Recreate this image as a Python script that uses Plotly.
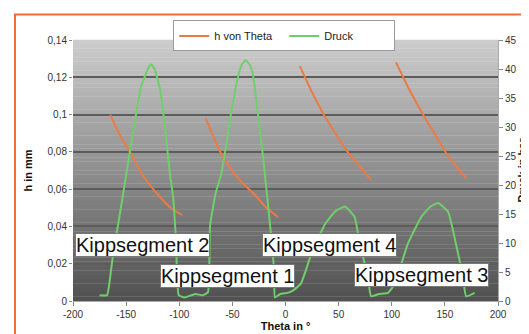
import plotly.graph_objects as go

# ---- data ----
h_theta = [-165, -155, -146, -135, -120, -108, -97, None,
           -75, -61, -49, -40, -29, -18, -7, None,
           13.5, 25, 37, 48, 59, 70, 80.5, None,
           104, 116, 129, 140, 151, 161, 170]
h_values = [0.100, 0.088, 0.0795, 0.068, 0.057, 0.050, 0.046, None,
            0.098, 0.0795, 0.069, 0.063, 0.057, 0.050, 0.045, None,
            0.126, 0.112, 0.099, 0.089, 0.0795, 0.072, 0.065, None,
            0.128, 0.114, 0.1005, 0.090, 0.0795, 0.072, 0.066]

p_theta = [-175, -168, -164, -161, -157.5, -150, -141.5, -136, -130, -126.5, -123, -118,
           -113.5, -108.7, -106, -103, -100.5, -95, -85, -78, -73, -71, -65.5, -60.7, -56,
           -51.3, -44.7, -41, -37.5, -34, -30.6, -26, -21.2, -18.4, -14.6, -10.5, -10, -5,
           2, 7, 14.5, 25, 37, 47, 56, 65, 70, 77.5, 80.5, 88, 96.5, 103, 115, 127.5, 136,
           143.5, 153, 160.5, 167, 170, 178]
p_values = [1.0, 1.0, 5.6, 9.8, 13.2, 21.7, 31.3, 36.9, 39.8, 40.8, 39.9, 36.4,
            30.1, 21.7, 18.3, 10.3, 1.0, 0.6, 1.2, 1.0, 1.5, 13.0, 18.8, 21.7, 26.7,
            32.3, 38.6, 40.8, 41.5, 40.8, 39.0, 32.3, 25.0, 20.0, 13.2, 4.7, 0.6, 1.2,
            1.4, 1.8, 3.0, 8.5, 13.2, 15.5, 16.3, 14.5, 9.8, 4.2, 0.8, 1.2, 1.4, 3.0, 9.8, 14.4, 16.2,
            16.9, 15.4, 9.8, 4.2, 0.8, 1.4]

label_texts = ["Kippsegment 2", "Kippsegment 1", "Kippsegment 4", "Kippsegment 3"]
label_theta = [-135, -55, 41, 128]
label_h = [0.030, 0.0135, 0.030, 0.0142]

h_ticks = [0, 0.02, 0.04, 0.06, 0.08, 0.10, 0.12, 0.14]
h_ticktext = ["0", "0,02", "0,04", "0,06", "0,08", "0,1", "0,12", "0,14"]
p_ticks = [0, 5, 10, 15, 20, 25, 30, 35, 40, 45]
theta_ticks = [-200, -150, -100, -50, 0, 50, 100, 150, 200]
theta_ticktext = ["-200", "-150", "-100", "-50", "0", "50", "100", "150", "200"]

FONT = "Arial, Liberation Sans, sans-serif"

fig = go.Figure()
fig.add_trace(go.Scatter(x=h_theta, y=h_values, name="h von Theta", mode="lines",
                         line=dict(color="#ec7a45", width=2, shape="spline", smoothing=0.6),
                         connectgaps=False))
fig.add_trace(go.Scatter(x=p_theta, y=p_values, name="Druck", mode="lines", yaxis="y2",
                         line=dict(color="#6fcf6a", width=2, shape="spline", smoothing=0.4)))

# gradient background of plot area
shapes = []
n = 60
for i in range(n):
    t = (i + 0.5) / n  # 0 top, 1 bottom
    g = int(round(205 - 125 * t))
    shapes.append(dict(type="rect", xref="x domain", yref="y domain",
                       x0=0, x1=1, y0=1 - (i + 1) / n, y1=1 - i / n + 0.001,
                       fillcolor=f"rgb({g},{g},{g})", line=dict(width=0), layer="below"))
# orange page border (top and left)
shapes.append(dict(type="line", xref="paper", yref="paper",
                   x0=-59 / 425, x1=464 / 425, y0=292 / 266, y1=292 / 266,
                   line=dict(color="#f26b3a", width=2)))
shapes.append(dict(type="line", xref="paper", yref="paper",
                   x0=-58 / 425, x1=-58 / 425, y0=292 / 266, y1=-40 / 266,
                   line=dict(color="#f26b3a", width=2)))

annotations = []
for txt, xv, yv in zip(label_texts, label_theta, label_h):
    annotations.append(dict(x=xv, y=yv, xref="x", yref="y", text=txt, showarrow=False,
                            font=dict(family=FONT, size=20, color="#111"),
                            bgcolor="white", bordercolor="#777", borderwidth=1, borderpad=0))
annotations.append(dict(x=(521 - 65) / 425, y=0.5, xref="paper", yref="paper",
                        text="<b>Druck in bar</b>", textangle=-90, showarrow=False,
                        font=dict(family=FONT, size=11, color="#111")))

fig.update_layout(
    width=529, height=334,
    margin=dict(l=65, r=39, t=32, b=36),
    paper_bgcolor="white", plot_bgcolor="rgba(0,0,0,0)",
    separators=",.",
    font=dict(family=FONT, size=10, color="#333"),
    shapes=shapes, annotations=annotations,
    showlegend=True,
    legend=dict(orientation="h", x=0.497, xanchor="center", y=1.075, yanchor="top",
                bordercolor="#999", borderwidth=1, bgcolor="white",
                font=dict(family=FONT, size=11, color="#222"), itemwidth=30,
                entrywidth=65, tracegroupgap=0),
    xaxis=dict(range=[-200, 200], tickvals=theta_ticks, ticktext=theta_ticktext,
               showgrid=False, zeroline=False,
               ticks="outside", ticklen=4, tickcolor="#888", showline=True, linecolor="#aaa",
               title=dict(text="<b>Theta in °</b>", font=dict(size=11, color="#111"), standoff=2)),
    yaxis=dict(range=[0, 0.14], tickvals=h_ticks, ticktext=h_ticktext, showgrid=True,
               gridcolor="#5c5c5c", gridwidth=2, zeroline=False, ticks="outside", ticklen=3,
               tickcolor="#888", showline=False,
               title=dict(text="<b>h in mm</b>", font=dict(size=11, color="#111"), standoff=12)),
    yaxis2=dict(range=[0, 45], tickvals=p_ticks, overlaying="y", side="right", showgrid=False,
                zeroline=False, ticks="outside", ticklen=4, tickcolor="#888", showline=True,
                linecolor="#aaa"),
)

fig.write_html("out.html")
